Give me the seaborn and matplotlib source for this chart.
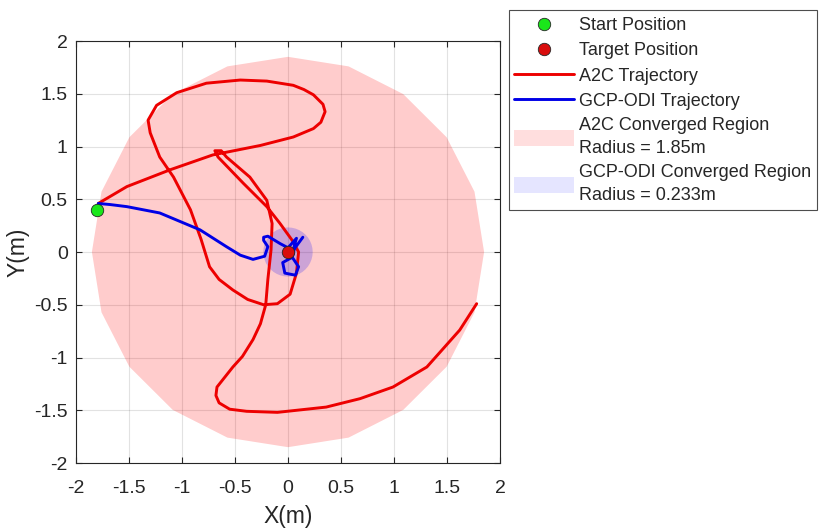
import numpy as np
import pandas as pd
import matplotlib
matplotlib.use("Agg")
import matplotlib.pyplot as plt
from matplotlib.patches import Patch
import seaborn as sns

# ---- data ----
start_pos = [-1.80, 0.40]
target_pos = [0.0, 0.0]

a2c_x = [-1.79, -1.52, -1.11, -0.71, -0.26, 0.05, 0.24, 0.31, 0.35, 0.33, 0.24, 0.15, 0.05,
         -0.20, -0.45, -0.77, -1.05, -1.24, -1.32, -1.30, -1.21, -1.08, -0.92, -0.82,
         -0.74, -0.65, -0.52, -0.38, -0.23, -0.10, 0.02, 0.08, 0.10, 0.04, -0.075, -0.20,
         -0.42, -0.66, -0.69, -0.63, -0.58, -0.36, -0.20, -0.15, -0.16, -0.19, -0.21,
         -0.26, -0.33, -0.43, -0.52, -0.67, -0.68, -0.65, -0.55, -0.39, -0.10, 0.36, 0.68,
         0.99, 1.31, 1.62, 1.78]
a2c_y = [0.46, 0.62, 0.78, 0.92, 1.01, 1.09, 1.17, 1.23, 1.33, 1.40, 1.49, 1.54, 1.58,
         1.62, 1.63, 1.60, 1.51, 1.39, 1.25, 1.13, 0.90, 0.71, 0.40, 0.12,
         -0.14, -0.26, -0.36, -0.45, -0.50, -0.49, -0.40, -0.20, 0.00, 0.11, 0.27, 0.43,
         0.65, 0.90, 0.96, 0.96, 0.90, 0.71, 0.49, 0.27, 0.02, -0.26, -0.50,
         -0.68, -0.83, -0.99, -1.09, -1.28, -1.36, -1.43, -1.49, -1.51, -1.52, -1.47, -1.39,
         -1.28, -1.09, -0.74, -0.49]

gcp_x = [-1.79, -1.68, -1.52, -1.21, -0.83, -0.58, -0.45, -0.33, -0.22, -0.19, -0.23,
         -0.23, -0.19, -0.075, 0.0, 0.08, 0.06, 0.04, -0.05, -0.03, 0.07, 0.10, 0.04,
         0.06, 0.14]
gcp_y = [0.46, 0.45, 0.43, 0.37, 0.21, 0.05, -0.03, -0.07, -0.04, 0.05, 0.11,
         0.14, 0.15, 0.08, 0.04, 0.13, 0.06, -0.05, -0.10, -0.20, -0.22, -0.14, -0.05,
         0.03, 0.14]

a2c_radius = 1.85
gcp_radius = 0.233
n_poly = 20

labels = ["Start Position", "Target Position", "A2C Trajectory", "GCP-ODI Trajectory",
          "A2C Converged Region\nRadius = 1.85m", "GCP-ODI Converged Region\nRadius = 0.233m"]

# ---- plotting ----
sns.set_style("ticks")
plt.rcParams["font.family"] = ["Liberation Sans", "DejaVu Sans"]

fig = plt.figure(figsize=(8.30, 5.29), dpi=100)
ax = fig.add_axes([76 / 830, 1 - 463 / 529, 424 / 830, 422 / 529])

theta = np.linspace(0, 2 * np.pi, n_poly + 1)
reg_a2c = ax.fill(a2c_radius * np.cos(theta), a2c_radius * np.sin(theta),
                  color=(1, 0, 0), alpha=0.2, lw=0, zorder=1)[0]
theta2 = np.linspace(0, 2 * np.pi, 41)
reg_gcp = ax.fill(gcp_radius * np.cos(theta2), gcp_radius * np.sin(theta2),
                  color=(0, 0, 1), alpha=0.2, lw=0, zorder=1)[0]

df_a2c = pd.DataFrame({"x": a2c_x, "y": a2c_y})
df_gcp = pd.DataFrame({"x": gcp_x, "y": gcp_y})
sns.lineplot(data=df_a2c, x="x", y="y", sort=False, estimator=None, ax=ax,
             color=(0.93, 0, 0), lw=2.1, zorder=3)
sns.lineplot(data=df_gcp, x="x", y="y", sort=False, estimator=None, ax=ax,
             color=(0, 0, 0.9), lw=2.1, zorder=3)
line_a2c, line_gcp = ax.get_lines()[0], ax.get_lines()[1]
for ln in (line_a2c, line_gcp):
    ln.set_solid_joinstyle("round")
    ln.set_solid_capstyle("round")

sns.scatterplot(x=[start_pos[0]], y=[start_pos[1]], ax=ax, color=(0.1, 0.9, 0.1),
                s=80, edgecolor=(0.15, 0.15, 0.15), linewidth=0.6, zorder=5)
sns.scatterplot(x=[target_pos[0]], y=[target_pos[1]], ax=ax, color=(0.85, 0.05, 0.05),
                s=80, edgecolor=(0.15, 0.15, 0.15), linewidth=0.6, zorder=5)
sc_start, sc_target = ax.collections[-2], ax.collections[-1]

ax.set_xlim(-2, 2)
ax.set_ylim(-2, 2)
ticks = np.arange(-2, 2.01, 0.5)
ax.set_xticks(ticks)
ax.set_yticks(ticks)
ax.set_xticklabels([f"{t:g}" for t in ticks])
ax.set_yticklabels([f"{t:g}" for t in ticks])
ax.grid(True, color=(0.15, 0.15, 0.15), alpha=0.13, lw=0.8, zorder=0)
ax.set_axisbelow(True)
ax.tick_params(direction="in", top=True, right=True, labelsize=14,
               colors=(0.15, 0.15, 0.15), length=4, width=0.8)
ax.tick_params(axis="x", pad=12)
ax.tick_params(axis="y", pad=6)
for s in ax.spines.values():
    s.set_color((0.15, 0.15, 0.15))
    s.set_linewidth(0.8)
    s.set_visible(True)
ax.set_xlabel("X(m)", fontsize=16.5, color=(0.15, 0.15, 0.15), labelpad=6)
ax.set_ylabel("Y(m)", fontsize=16.5, color=(0.15, 0.15, 0.15), labelpad=3)

patch_a2c = Patch(facecolor=(1, 0, 0), alpha=0.13, lw=0)
patch_gcp = Patch(facecolor=(0, 0, 1), alpha=0.1, lw=0)
leg = fig.legend([sc_start, sc_target, line_a2c, line_gcp, patch_a2c, patch_gcp], labels,
                 loc="upper left", bbox_to_anchor=(509 / 830, 1 - 10 / 529),
                 fontsize=13, frameon=True, fancybox=False, framealpha=1,
                 edgecolor=(0.3, 0.3, 0.3), handlelength=3.3, handleheight=1.0,
                 handletextpad=0.3, labelspacing=0.4, borderpad=0.3, borderaxespad=0)
leg.get_frame().set_linewidth(0.8)
for t in leg.get_texts():
    t.set_linespacing(1.45)

fig.savefig("out.png", dpi=100)
